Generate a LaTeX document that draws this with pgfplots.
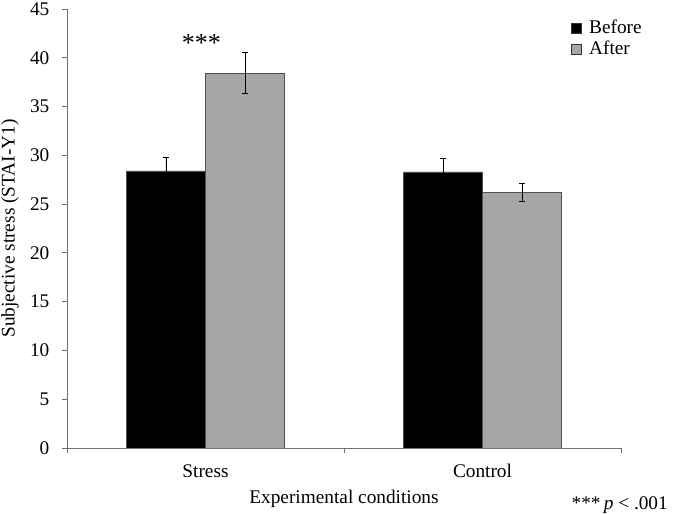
\documentclass[border=0pt]{standalone}
\usepackage{pgfplots}
\pgfplotsset{compat=1.18}
\usepackage{fontspec}
\setmainfont{Liberation Serif}
\definecolor{barGray}{HTML}{A6A6A6}
\definecolor{edgeGray}{HTML}{505050}
\definecolor{axGray}{HTML}{707070}
\newcommand{\fs}{\fontsize{19.3bp}{23bp}\selectfont}
\pgfplotsset{myerr/.style={error bars/.cd, y dir=both, y explicit,
  error bar style={black, line width=0.9bp},
  error mark options={rotate=90, mark size=2.7bp, black, line width=0.9bp}}}
\begin{document}
\fs
\begin{tikzpicture}
\begin{axis}[
  name=ax,
  scale only axis,
  width=554bp, height=439bp,
  xmin=-0.5, xmax=1.5, ymin=0, ymax=45,
  ytick={0,5,...,45},
  xtick={0,1},
  xticklabels={Stress,Control},
  minor xtick={-0.5,0.5,1.5},
  axis x line*=bottom,
  axis y line*=left,
  axis line style={axGray, line width=0.8bp},
  tick align=outside,
  major tick length=5bp,
  minor tick length=5bp,
  tick style={axGray, line width=0.8bp},
  major x tick style={draw=none},
  /pgf/number format/assume math mode=true,
  tick label style={font=\fs, black},
  yticklabel style={xshift=-6bp},
  xticklabel style={anchor=base, yshift=-25bp},
  ylabel={Subjective stress (STAI-Y1)},
  ylabel style={at={(axis description cs:0,0.5)}, anchor=center, yshift=57bp, font=\fs},
  xlabel={Experimental conditions},
  xlabel style={at={(axis description cs:0.5,0)}, anchor=base, yshift=-56bp, font=\fs},
  ybar=0pt,
  bar width=79bp,
  legend style={at={(axis description cs:0.9085,0.98)}, anchor=north west, draw=none, fill=none,
    font=\fs, row sep=0.5bp, inner sep=0pt},
  legend cell align=left,
  legend image code/.code={\draw[#1, draw=black!80, line width=0.6bp] (0bp,-5bp) rectangle (10bp,5bp); \path (16bp,0bp);},
]
\addplot[fill=black, draw=edgeGray, line width=0.8bp, myerr] coordinates {(0,28.4) +- (0,1.4) (1,28.3) +- (0,1.4)};
\addlegendentry{Before}
\addplot[fill=barGray, draw=edgeGray, line width=0.8bp, myerr] coordinates {(0,38.4) +- (0,2.1) (1,26.2) +- (0,0.9)};
\addlegendentry{After}
\node[anchor=base, inner sep=0pt, font=\fontsize{26bp}{30bp}\selectfont] at (axis cs:-0.015,40.6) {***};
\end{axis}
\node[anchor=base east, inner sep=0pt] at ([xshift=47bp, yshift=-62bp]ax.south east) {***\,\textit{p} < .001};
\pgfresetboundingbox
\path ([xshift=-67bp,yshift=-66bp]ax.south west) rectangle ([xshift=54bp, yshift=9bp]ax.north east);
\end{tikzpicture}
\end{document}
